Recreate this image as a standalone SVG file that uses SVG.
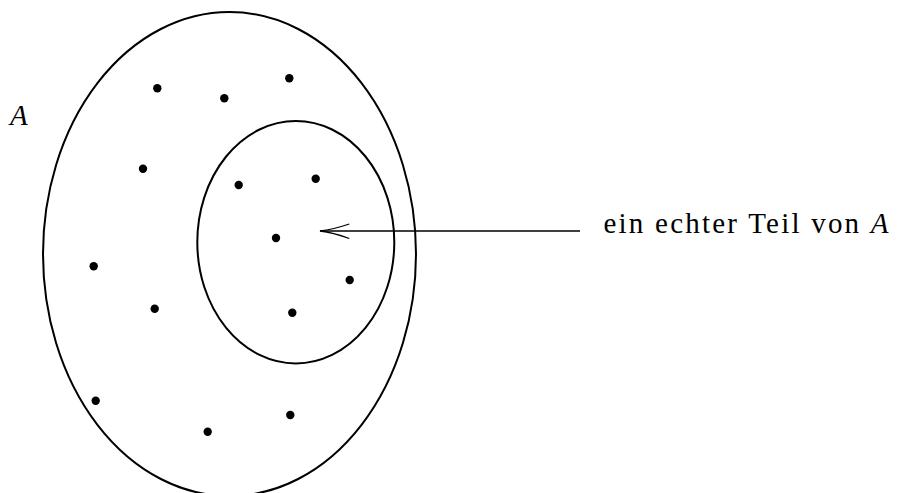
<svg xmlns="http://www.w3.org/2000/svg" width="901" height="493" viewBox="0 0 901 493">
<style>
.set{fill:none;stroke:#000;stroke-width:2}
.dot{fill:#000}
.conn{fill:none;stroke:#000;stroke-width:1.3}
.lbl{font-family:"Liberation Serif","Times New Roman",serif;font-size:29px;fill:#000}
</style>
<rect width="901" height="493" fill="#fff"/>
<g id="setA">
<ellipse class="set" cx="229.5" cy="254" rx="186.5" ry="242"/>
<text class="lbl" x="10" y="125" font-size="31" font-style="italic">A</text>
</g>
<g id="subset">
<ellipse class="set" cx="295.8" cy="242.2" rx="98.5" ry="121.2"/>
</g>
<g id="points">
<circle class="dot" cx="157.3" cy="88.3" r="4.2"/>
<circle class="dot" cx="224.3" cy="98.3" r="4.2"/>
<circle class="dot" cx="289.3" cy="78.3" r="4.2"/>
<circle class="dot" cx="143" cy="168.7" r="4.2"/>
<circle class="dot" cx="238.7" cy="185" r="4.2"/>
<circle class="dot" cx="315.7" cy="178.7" r="4.2"/>
<circle class="dot" cx="276" cy="238" r="4.2"/>
<circle class="dot" cx="93.7" cy="266.3" r="4.2"/>
<circle class="dot" cx="154.7" cy="308.7" r="4.2"/>
<circle class="dot" cx="349.7" cy="280" r="4.2"/>
<circle class="dot" cx="292.3" cy="312.7" r="4.2"/>
<circle class="dot" cx="95.7" cy="400.7" r="4.2"/>
<circle class="dot" cx="207.7" cy="431.7" r="4.2"/>
<circle class="dot" cx="290.3" cy="415" r="4.2"/>
</g>
<g id="connectors">
<line class="conn" x1="580" y1="231" x2="320" y2="231"/>
<path class="conn" d="M349.3,224 Q333,229.5 320,231 Q333,232.5 349.3,238.5"/>
</g>
<g id="label">
<text class="lbl" x="603.5" y="232.5" textLength="285">ein echter Teil von <tspan font-style="italic">A</tspan></text>
</g>
</svg>
